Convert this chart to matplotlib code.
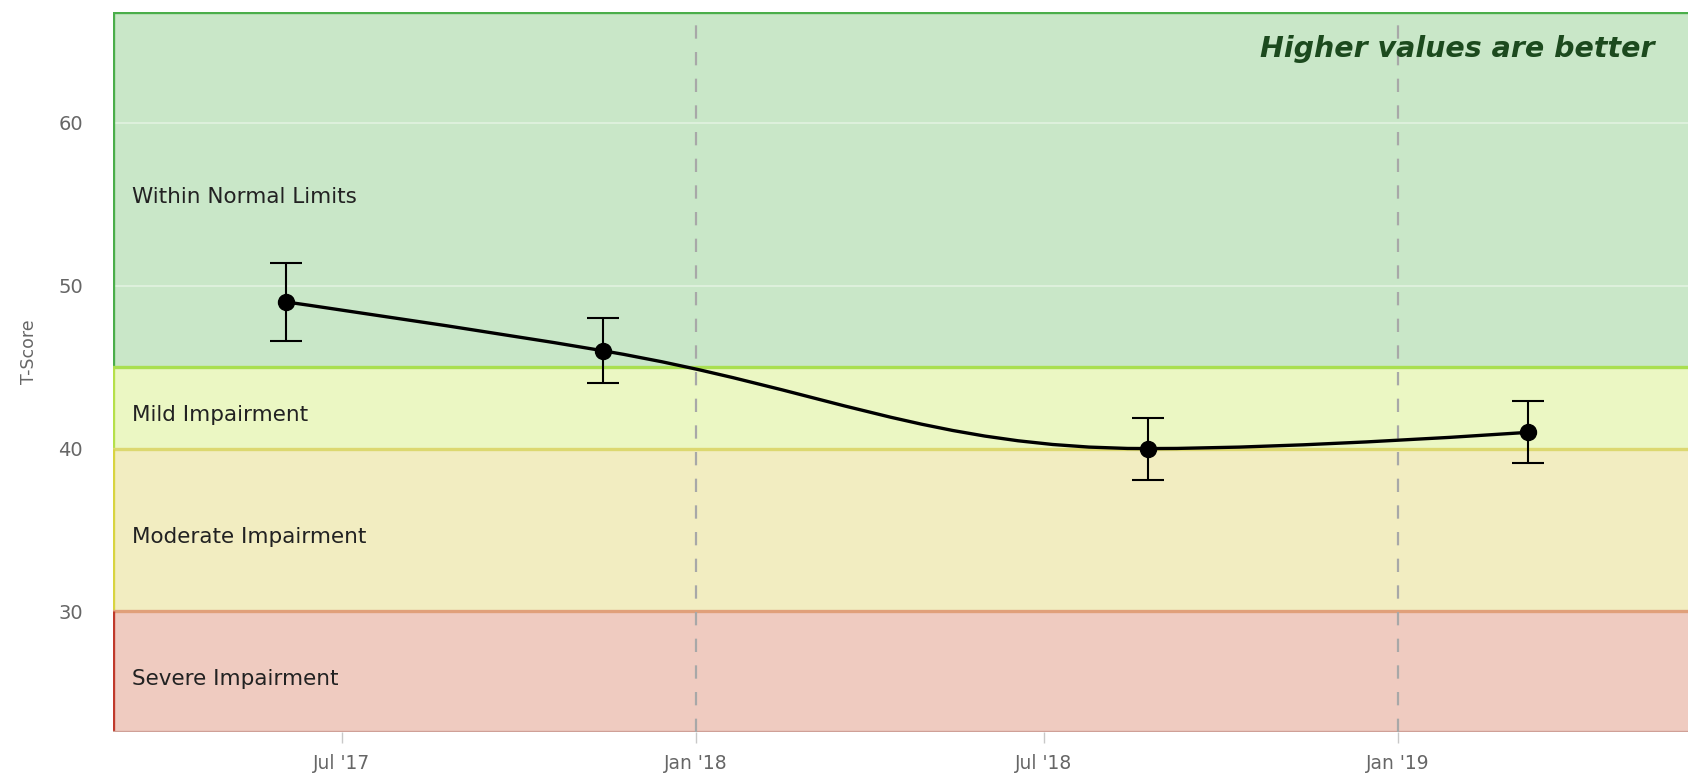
import datetime as dt
import matplotlib
matplotlib.use("Agg")
import matplotlib.pyplot as plt
import matplotlib.dates as mdates
from matplotlib.path import Path
from matplotlib.patches import PathPatch

# data
visit_dates = [dt.date(2017, 6, 2), dt.date(2017, 11, 14), dt.date(2018, 8, 24), dt.date(2019, 3, 10)]
t_scores = [49.0, 46.0, 40.0, 41.0]
t_err = [2.4, 2.0, 1.9, 1.9]

band_names = ["Within Normal Limits", "Mild Impairment", "Moderate Impairment", "Severe Impairment"]
band_low = [45, 40, 30, 22.6]
band_high = [66.8, 45, 40, 30]
band_fill = ["#c9e7c8", "#ebf7c3", "#f2edc1", "#efcbc0"]
band_edge = ["#4aae4a", "#a9df4f", "#dcd870", "#e0a07a"]
band_side = ["#4aae4a", "#b5e04a", "#d8d440", "#c0392b"]

tick_dates = [dt.date(2017, 7, 1), dt.date(2018, 1, 1), dt.date(2018, 7, 1), dt.date(2019, 1, 1)]
tick_labels = ["Jul '17", "Jan '18", "Jul '18", "Jan '19"]
dash_dates = [dt.date(2018, 1, 1), dt.date(2019, 1, 1)]
y_ticks = [30, 40, 50, 60]

x_min, x_max = dt.date(2017, 3, 4), dt.date(2019, 6, 1)
y_min, y_max = 22.6, 66.8


def hc_spline(xs, ys, smoothing=1.5):
    # same control point rule as a highcharts spline series
    n = len(xs)
    lc = [None] * n
    rc = [None] * n
    d = smoothing + 1
    for i in range(1, n - 1):
        lx, ly = xs[i - 1], ys[i - 1]
        px, py = xs[i], ys[i]
        nx, ny = xs[i + 1], ys[i + 1]
        lcx = (smoothing * px + lx) / d
        lcy = (smoothing * py + ly) / d
        rcx = (smoothing * px + nx) / d
        rcy = (smoothing * py + ny) / d
        corr = 0
        if rcx != lcx:
            corr = (rcy - lcy) * (rcx - px) / (rcx - lcx) + py - rcy
        lcy += corr
        rcy += corr
        if lcy > ly and lcy > py:
            lcy = max(ly, py); rcy = 2 * py - lcy
        elif lcy < ly and lcy < py:
            lcy = min(ly, py); rcy = 2 * py - lcy
        if rcy > ny and rcy > py:
            rcy = max(ny, py); lcy = 2 * py - rcy
        elif rcy < ny and rcy < py:
            rcy = min(ny, py); lcy = 2 * py - rcy
        lc[i] = (lcx, lcy)
        rc[i] = (rcx, rcy)
    verts = [(xs[0], ys[0])]
    codes = [Path.MOVETO]
    for i in range(1, n):
        c1 = rc[i - 1] or (xs[i - 1], ys[i - 1])
        c2 = lc[i] or (xs[i], ys[i])
        verts += [c1, c2, (xs[i], ys[i])]
        codes += [Path.CURVE4] * 3
    return Path(verts, codes)


fig = plt.figure(figsize=(16.91, 7.73), dpi=100)
ax = fig.add_axes([113 / 1691, 41 / 773, 1575 / 1691, 720 / 773])

xd = mdates.date2num(visit_dates)
x0, x1 = mdates.date2num(x_min), mdates.date2num(x_max)

# coloured bands
for name, lo, hi, fc, ec, sc in zip(band_names, band_low, band_high, band_fill, band_edge, band_side):
    ax.axhspan(lo, hi, color=fc, lw=0, zorder=0)
    ax.axhline(hi, color=ec, lw=2.4, zorder=1)
    ax.plot([x0, x0], [lo, hi], color=sc, lw=2.4, zorder=1, solid_capstyle="butt")
    ax.annotate(name, (x0, (lo + hi) / 2), xytext=(14, -5), textcoords="offset points",
                fontsize=15.5, color="#222222", va="center", ha="left", zorder=4)
ax.axhline(band_low[-1], color="#cfa097", lw=2.4, zorder=1)

# faint grid
for yv in y_ticks:
    ax.axhline(yv, color="white", lw=1.2, alpha=0.45, zorder=0.5)

for dd in dash_dates:
    ax.axvline(mdates.date2num(dd), color="#a8a8a8", lw=1.6, ls=(0, (6, 6)), zorder=2)

ax.add_patch(PathPatch(hc_spline(list(xd), t_scores), fc="none", ec="black", lw=2.4, zorder=3))
ax.errorbar(xd, t_scores, yerr=t_err, fmt="o", color="black", ms=11.5, elinewidth=1.5,
            capsize=11.5, capthick=1.5, zorder=5)

ax.text(0.979, 0.948, "Higher values are better", transform=ax.transAxes, ha="right", va="center",
        fontsize=20.5, fontweight="bold", fontstyle="italic", color="#1c4a1e", zorder=6)

ax.set_xlim(x0, x1)
ax.set_ylim(y_min, y_max)
ax.set_xticks(mdates.date2num(tick_dates))
ax.set_xticklabels(tick_labels)
ax.set_yticks(y_ticks)
ax.tick_params(axis="x", length=8, width=1, color="#c8c8c8", labelsize=13.5, labelcolor="#666666", pad=8)
ax.tick_params(axis="y", length=0, labelsize=14, labelcolor="#666666", pad=21.5)
for s in ax.spines.values():
    s.set_visible(False)

ax.set_ylabel("T-Score", fontsize=12.5, color="#666666")
ax.yaxis.set_label_coords(-0.0476, 0.528)

fig.savefig("out.png", dpi=100, facecolor="white")
